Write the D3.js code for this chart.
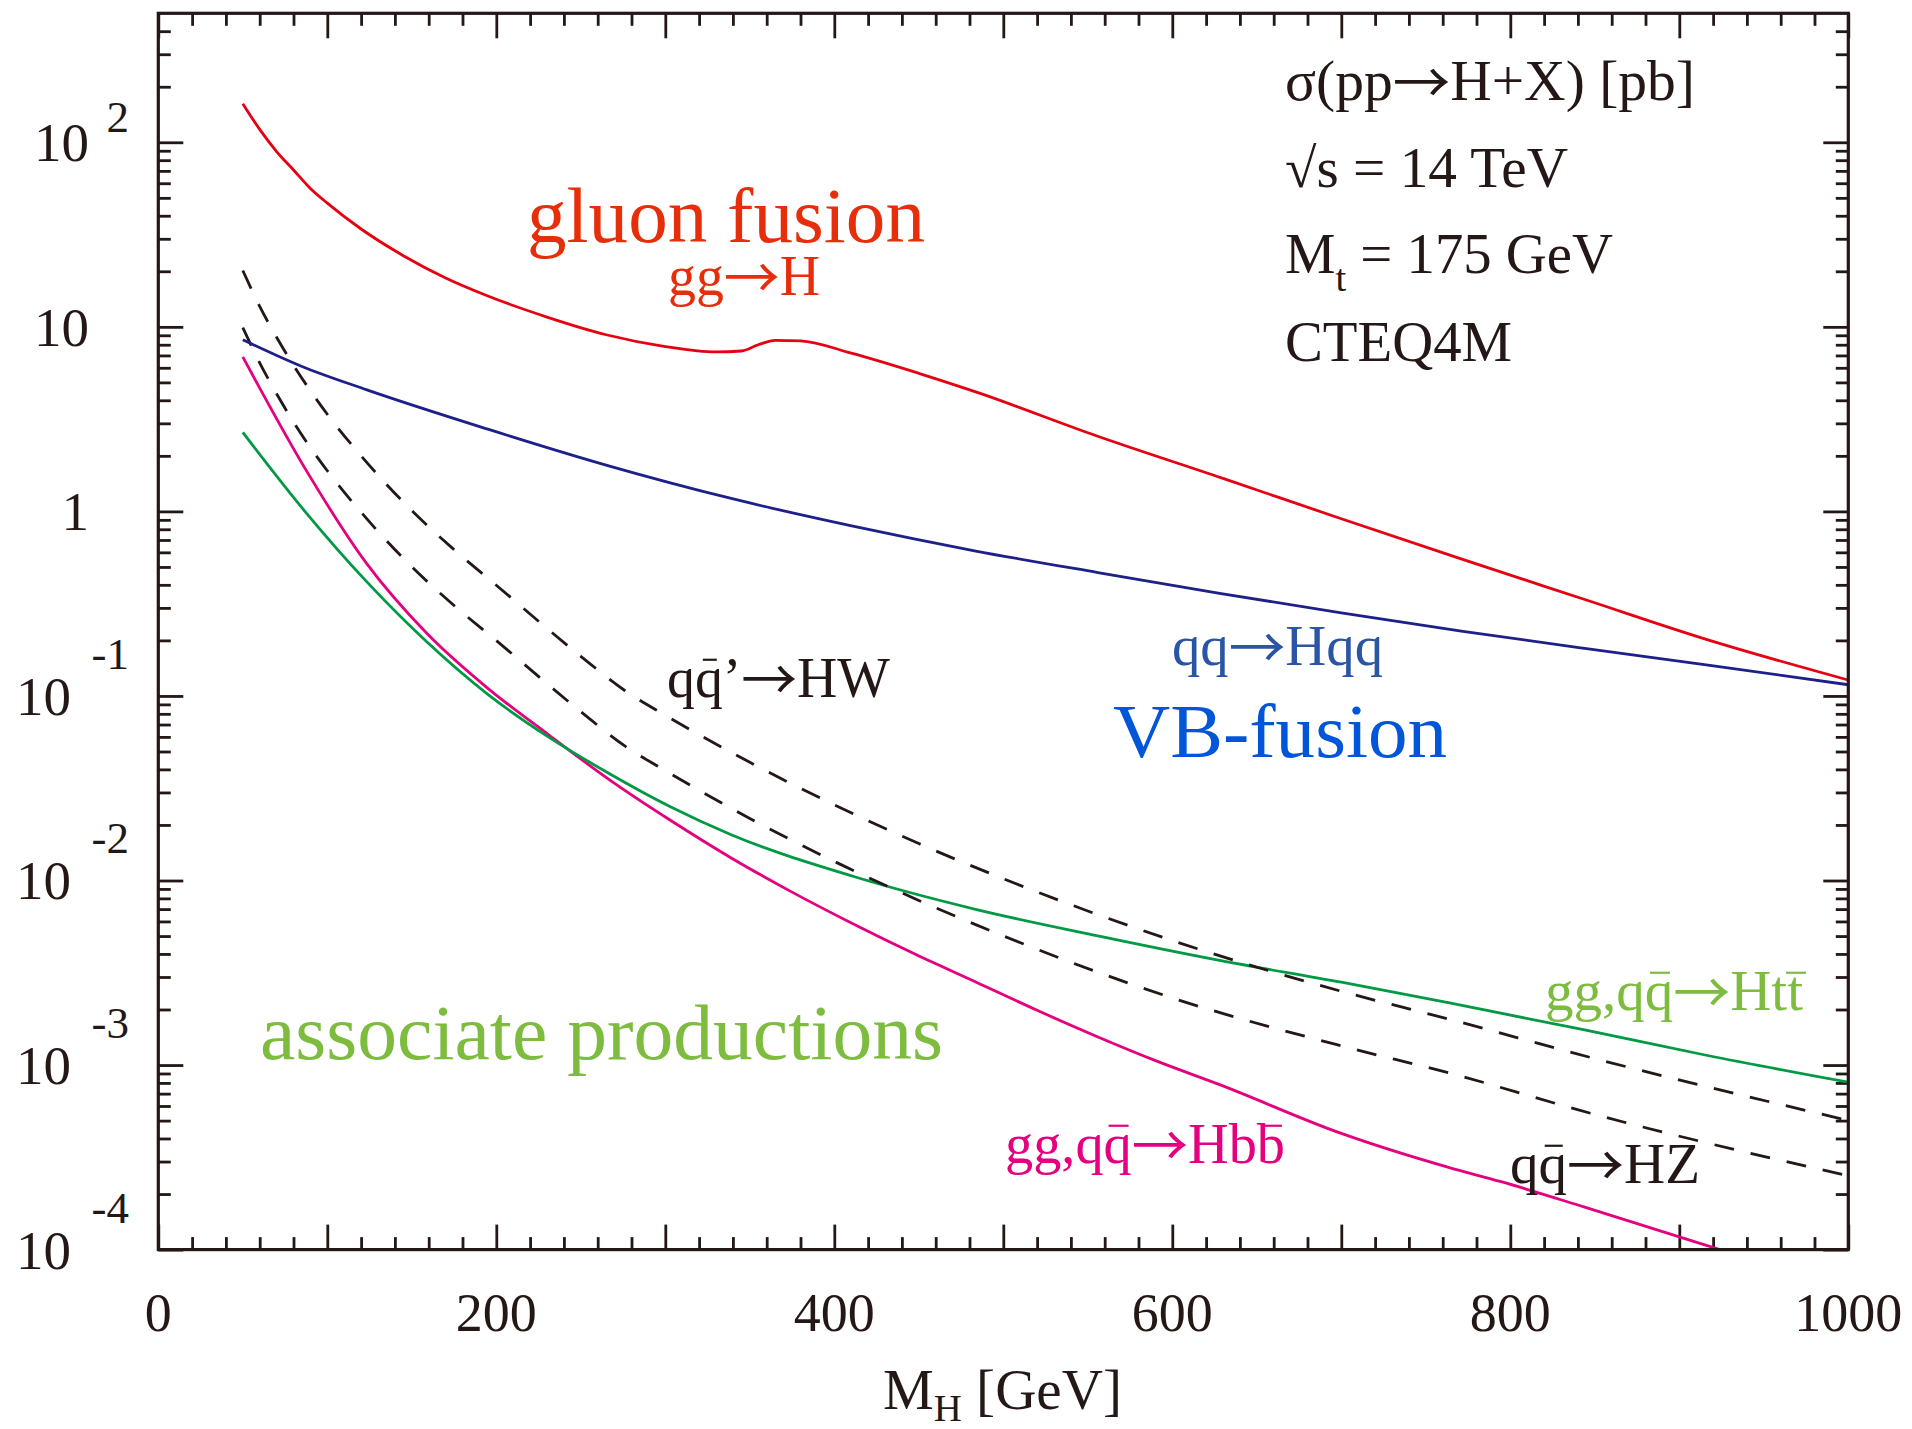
<!DOCTYPE html>
<html><head><meta charset="utf-8">
<script src="https://cdn.jsdelivr.net/npm/d3@7"></script>
<style>
body{margin:0;background:#fff}
text{font-family:"Liberation Serif","Times New Roman",serif}
</style>
</head><body>
<svg id="c" width="1912" height="1429"></svg>
<script>
// ---- data (M_H in GeV, sigma in pb) ----
const massGG = [50, 60, 70, 80, 90, 100, 120, 145, 170, 195, 230, 265, 300, 330, 345, 355, 365, 380, 410, 450, 485, 555, 630, 700, 770, 845, 915, 1000];
const sigmaGG = [162, 117.5, 89.1, 70.8, 56.2, 46.8, 33.9, 24.3, 18.4, 14.7, 11.3, 9.06, 7.82, 7.31, 7.4, 8.0, 8.45, 8.4, 7.2, 5.6, 4.4, 2.57, 1.51, 0.912, 0.556, 0.331, 0.204, 0.122];

const massVBF = [50, 85, 123, 195, 267, 339, 411, 483, 556, 628, 700, 772, 844, 917, 1000];
const sigmaVBF = [8.51, 6.1, 4.57, 2.79, 1.76, 1.175, 0.832, 0.612, 0.466, 0.36, 0.282, 0.224, 0.181, 0.147, 0.115];

const massHW = [50, 60, 70, 80, 91, 100, 120, 150, 175, 200, 250, 276, 300, 350, 400, 450, 500, 600, 700, 764, 850, 1000];
const sigmaHW = [20.2, 12.9, 8.79, 6.19, 4.37, 3.36, 2.0, 1.01, 0.621, 0.398, 0.164, 0.107, 0.0786, 0.0437, 0.0257, 0.01585, 0.01023, 0.00473, 0.00251, 0.00177, 0.001084, 0.000501];

const massHZ = [50, 60, 70, 80, 91, 100, 120, 150, 175, 200, 250, 276, 300, 350, 400, 450, 500, 600, 700, 764, 850, 1000];
const sigmaHZ = [9.91, 6.38, 4.34, 3.05, 2.15, 1.66, 0.989, 0.501, 0.309, 0.1995, 0.0822, 0.0536, 0.0394, 0.0217, 0.01269, 0.0078, 0.00501, 0.00231, 0.00127, 0.000905, 0.00054, 0.000251];

const massHtt = [50, 87, 123, 159, 195, 231, 267, 303, 339, 411, 483, 556, 628, 700, 764, 844, 916, 1000];
const sigmaHtt = [2.68, 0.995, 0.419, 0.196, 0.102, 0.0598, 0.0379, 0.0251, 0.0177, 0.01054, 0.0070, 0.00501, 0.00369, 0.00281, 0.00217, 0.00155, 0.00113, 0.000807];

const massHbb = [50, 87, 123, 159, 195, 231, 267, 303, 339, 375, 411, 448, 484, 520, 556, 592, 628, 700, 764, 794, 844, 924, 950];
const sigmaHbb = [6.87, 1.70, 0.526, 0.218, 0.11, 0.0616, 0.0351, 0.0212, 0.01325, 0.00865, 0.00583, 0.00398, 0.00281, 0.00198, 0.00142, 0.00104, 0.000783, 0.000426, 0.000278, 0.000234, 0.00017, 0.0001, 0.000084];

const xTickValues = [0, 200, 400, 600, 800, 1000];
const yDecades = [-4, -3, -2, -1, 0, 1, 2];

// ---- layout ----
const L = 158.3, R = 1848.3, T = 13.3, B = 1249.6;
const ink = "#231815";
const svg = d3.select("#c");
svg.append("rect").attr("width", 1912).attr("height", 1429).attr("fill", "#fff");

const x = d3.scaleLinear().domain([0, 1000]).range([L, R]);
const y = d3.scaleLog().domain([1e-4, 500]).range([B, T]);

// ---- ticks via d3 axes ----
const xMajor = d3.range(0, 1001, 100);
const xMinor = d3.range(0, 1001, 20).filter(v => v % 100 !== 0);
const yMajor = yDecades.map(e => Math.pow(10, e));
const yMinor = [];
yDecades.forEach(e => { for (let k = 2; k <= 9; k++) { const v = k * Math.pow(10, e); if (v < 500) yMinor.push(v); } });

function drawAxis(axisFn, scale, vals, size, tr) {
  const a = svg.append("g").attr("transform", tr)
    .call(axisFn(scale).tickValues(vals).tickSize(size).tickSizeOuter(0).tickFormat(""));
  a.select(".domain").remove();
  a.selectAll(".tick line").attr("stroke", ink).attr("stroke-width", 2.8);
}
drawAxis(d3.axisBottom, x, xMajor, -25, `translate(0,${B})`);
drawAxis(d3.axisBottom, x, xMinor, -12.5, `translate(0,${B})`);
drawAxis(d3.axisTop, x, xMajor, -25, `translate(0,${T})`);
drawAxis(d3.axisTop, x, xMinor, -12.5, `translate(0,${T})`);
drawAxis(d3.axisLeft, y, yMajor, -25, `translate(${L},0)`);
drawAxis(d3.axisLeft, y, yMinor, -12.5, `translate(${L},0)`);
drawAxis(d3.axisRight, y, yMajor, -25, `translate(${R},0)`);
drawAxis(d3.axisRight, y, yMinor, -12.5, `translate(${R},0)`);

// ---- curves ----
svg.append("clipPath").attr("id", "clip").append("rect")
  .attr("x", L).attr("y", T).attr("width", R - L).attr("height", B - T);
const line = d3.line().x(d => x(d[0])).y(d => y(d[1])).curve(d3.curveMonotoneX);
const curves = [
  {m: massHbb, s: sigmaHbb, c: "#e4007f", dash: null},
  {m: massHtt, s: sigmaHtt, c: "#009944", dash: null},
  {m: massHZ, s: sigmaHZ, c: ink, dash: "20,17"},
  {m: massHW, s: sigmaHW, c: ink, dash: "20,17"},
  {m: massVBF, s: sigmaVBF, c: "#1d2088", dash: null},
  {m: massGG, s: sigmaGG, c: "#e60012", dash: null}
];
const cg = svg.append("g").attr("clip-path", "url(#clip)");
curves.forEach(cv => {
  cg.append("path").datum(cv.m.map((m, i) => [m, cv.s[i]]))
    .attr("d", line).attr("fill", "none").attr("stroke", cv.c)
    .attr("stroke-width", 2.8).attr("stroke-dasharray", cv.dash);
});

// ---- frame ----
svg.append("rect").attr("x", L).attr("y", T).attr("width", R - L).attr("height", B - T)
  .attr("fill", "none").attr("stroke", ink).attr("stroke-width", 3.2);

// ---- tick labels ----
svg.append("g").selectAll("text").data(xTickValues).join("text")
  .attr("x", d => x(d)).attr("y", B + 81).attr("text-anchor", "middle")
  .attr("font-size", 54).attr("fill", ink).text(d => d);

yDecades.forEach(e => {
  const ty = y(Math.pow(10, e));
  if (e === 0 || e === 1) {
    svg.append("text").attr("x", 89).attr("y", ty + 19).attr("text-anchor", "end")
      .attr("font-size", 55).attr("fill", ink).text(e === 0 ? "1" : "10");
  } else {
    svg.append("text").attr("x", e > 0 ? 89 : 71).attr("y", ty + 19).attr("text-anchor", "end")
      .attr("font-size", 55).attr("fill", ink).text("10");
    svg.append("text").attr("x", 129).attr("y", ty + (e > 0 ? -10 : -27)).attr("text-anchor", "end")
      .attr("font-size", 45).attr("fill", ink).text(String(e));
  }
});

// ---- labels ----
function label(parts, px, py, size, color, len, barW) {
  const t = svg.append("text").attr("x", px).attr("y", py).attr("font-size", size).attr("fill", color);
  let shift = 0, idx = 0;
  const bars = [];
  parts.forEach(p => {
    const ts = t.append("tspan").text(p.t);
    let off = 0;
    if (p.sub) { off = p.sub; ts.attr("font-size", size * 0.68); }
    if (p.arrow) { off = 0.06 * size; ts.attr("font-family", "Noto Sans CJK JP").attr("font-size", size); }
    if (off !== shift) { ts.attr("dy", off - shift); shift = off; }
    if (p.over) bars.push(idx);
    idx += p.t.length;
  });
  if (len) t.attr("textLength", len).attr("lengthAdjust", "spacingAndGlyphs");
  const node = t.node();
  bars.forEach(i => {
    const s = node.getStartPositionOfChar(i).x, e = node.getEndPositionOfChar(i).x;
    const cx = (s + e) / 2 + 1, w = barW || 20;
    svg.append("line").attr("x1", cx - w / 2).attr("x2", cx + w / 2)
      .attr("y1", py - 0.665 * size).attr("y2", py - 0.665 * size)
      .attr("stroke", color).attr("stroke-width", 2.2);
  });
  return t;
}
const A = {t: "→", arrow: true};

label([{t: "gluon fusion"}], 527, 242, 78, "#e62e0b", 398);
label([{t: "gg"}, A, {t: "H"}], 668, 295, 56, "#e62e0b", 152);

label([{t: "σ(pp"}, A, {t: "H+X) [pb]"}], 1285, 100, 56, ink, 410);
label([{t: "√s = 14 TeV"}], 1285, 187, 56, ink, 283);
label([{t: "M"}, {t: "t", sub: 18}, {t: " = 175 GeV"}], 1285, 273, 56, ink, 328);
label([{t: "CTEQ4M"}], 1285, 361, 56, ink, 227);

label([{t: "q"}, {t: "q", over: true}, {t: "’"}, A, {t: "HW"}], 667, 697, 56, ink, 223, 14);
label([{t: "qq"}, A, {t: "Hqq"}], 1172, 665, 56, "#2a55a5", 211);
label([{t: "VB-fusion"}], 1113, 757, 76, "#0055d8", 334);

label([{t: "associate productions"}], 260, 1059, 78, "#7dbc3f", 683);
label([{t: "gg,q"}, {t: "q", over: true}, A, {t: "Hb"}, {t: "b", over: true}], 1005, 1163, 56, "#e4007f", 280);
label([{t: "gg,q"}, {t: "q", over: true}, A, {t: "Ht"}, {t: "t", over: true}], 1545, 1010, 56, "#7dbc3f", 258);
label([{t: "q"}, {t: "q", over: true}, A, {t: "HZ"}], 1510, 1183, 56, ink, 190, 18);

label([{t: "M"}, {t: "H", sub: 12}, {t: " [GeV]"}], 883, 1409, 57, ink, 239);
</script>
</body></html>
